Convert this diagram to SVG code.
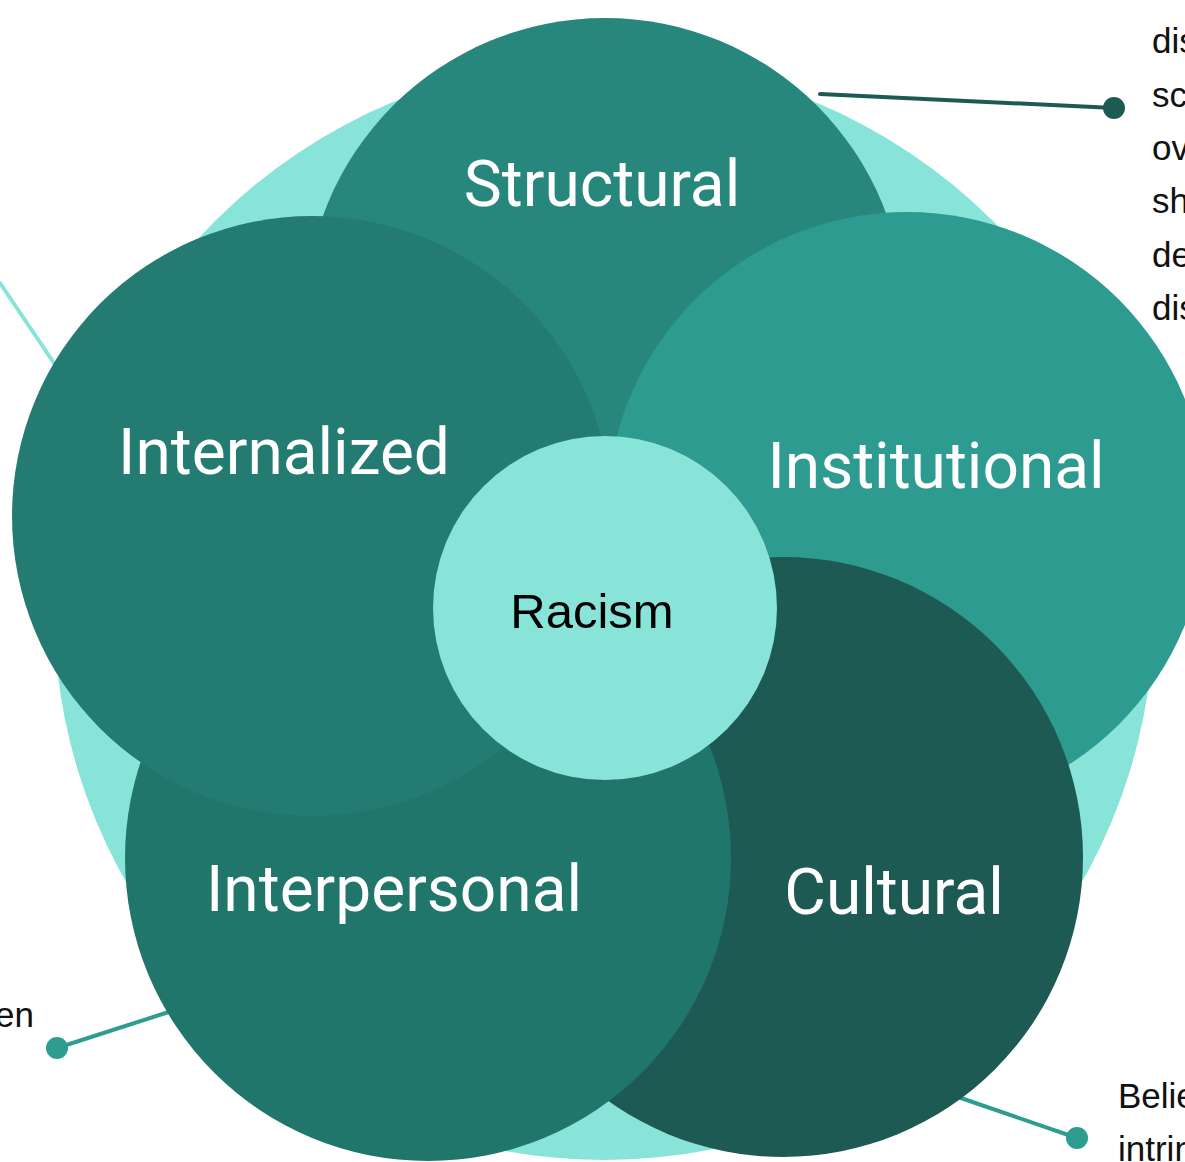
<svg xmlns="http://www.w3.org/2000/svg" width="1185" height="1162" viewBox="0 0 1185 1162">
  <style>
    .lbl { font-family: Roboto, "Noto Sans", sans-serif; font-size: 64px; fill: #ffffff; text-anchor: middle; }
    .core { font-family: "Liberation Sans", Arial, sans-serif; font-size: 49px; fill: #000000; text-anchor: middle; }
    .note { font-family: "Liberation Sans", Arial, sans-serif; font-size: 35px; fill: #111111; }
    .lead { fill: none; stroke-width: 4; stroke-linecap: round; }
  </style>
  <rect width="1185" height="1162" fill="#ffffff"/>

  <!-- leader lines to the side notes -->
  <g id="connectors">
    <line class="lead" x1="0" y1="283" x2="60" y2="372" stroke="#88e3d8"/>
    <line class="lead" x1="820" y1="94" x2="1114" y2="108" stroke="#1c5a53"/>
    <circle cx="1114" cy="108" r="11" fill="#1c5a53"/>
    <line class="lead" x1="57" y1="1048" x2="175" y2="1010" stroke="#2e9c90"/>
    <circle cx="57" cy="1048" r="11" fill="#2e9c90"/>
    <line class="lead" x1="955" y1="1096" x2="1077" y2="1138" stroke="#2e9c90"/>
    <circle cx="1077" cy="1138" r="11" fill="#2e9c90"/>
  </g>

  <g id="outer-ring">
    <circle cx="604" cy="610" r="550" fill="#88e3d8"/>
  </g>

  <g id="structural">
    <circle cx="605" cy="318" r="300" fill="#27877c"/>
    <text class="lbl" x="602" y="206">Structural</text>
  </g>

  <g id="institutional">
    <circle cx="907" cy="512" r="300" fill="#2d9b8f"/>
  </g>

  <g id="cultural">
    <circle cx="783" cy="857" r="300" fill="#1c5a53"/>
  </g>

  <g id="interpersonal">
    <circle cx="428" cy="858" r="303" fill="#21766b"/>
  </g>

  <g id="internalized">
    <circle cx="312" cy="516" r="300" fill="#247b71"/>
    <text class="lbl" x="284" y="474">Internalized</text>
  </g>

  <!-- labels that sit over neighbouring circles -->
  <text class="lbl" x="936" y="488">Institutional</text>
  <text class="lbl" x="394" y="911">Interpersonal</text>
  <text class="lbl" x="894" y="914">Cultural</text>

  <g id="racism">
    <circle cx="605" cy="608" r="172" fill="#88e3d8"/>
    <text class="core" x="592" y="628">Racism</text>
  </g>

  <!-- side notes, running off the right and left edges -->
  <g id="notes">
    <text class="note" x="1152" y="53">dis</text>
    <text class="note" x="1152" y="107">sc</text>
    <text class="note" x="1152" y="160">ov</text>
    <text class="note" x="1152" y="213">sh</text>
    <text class="note" x="1152" y="267">de</text>
    <text class="note" x="1152" y="320">dis</text>
    <text class="note" x="34" y="1027" text-anchor="end">en</text>
    <text class="note" x="1118" y="1108">Belie</text>
    <text class="note" x="1118" y="1161">intrin</text>
  </g>
</svg>
